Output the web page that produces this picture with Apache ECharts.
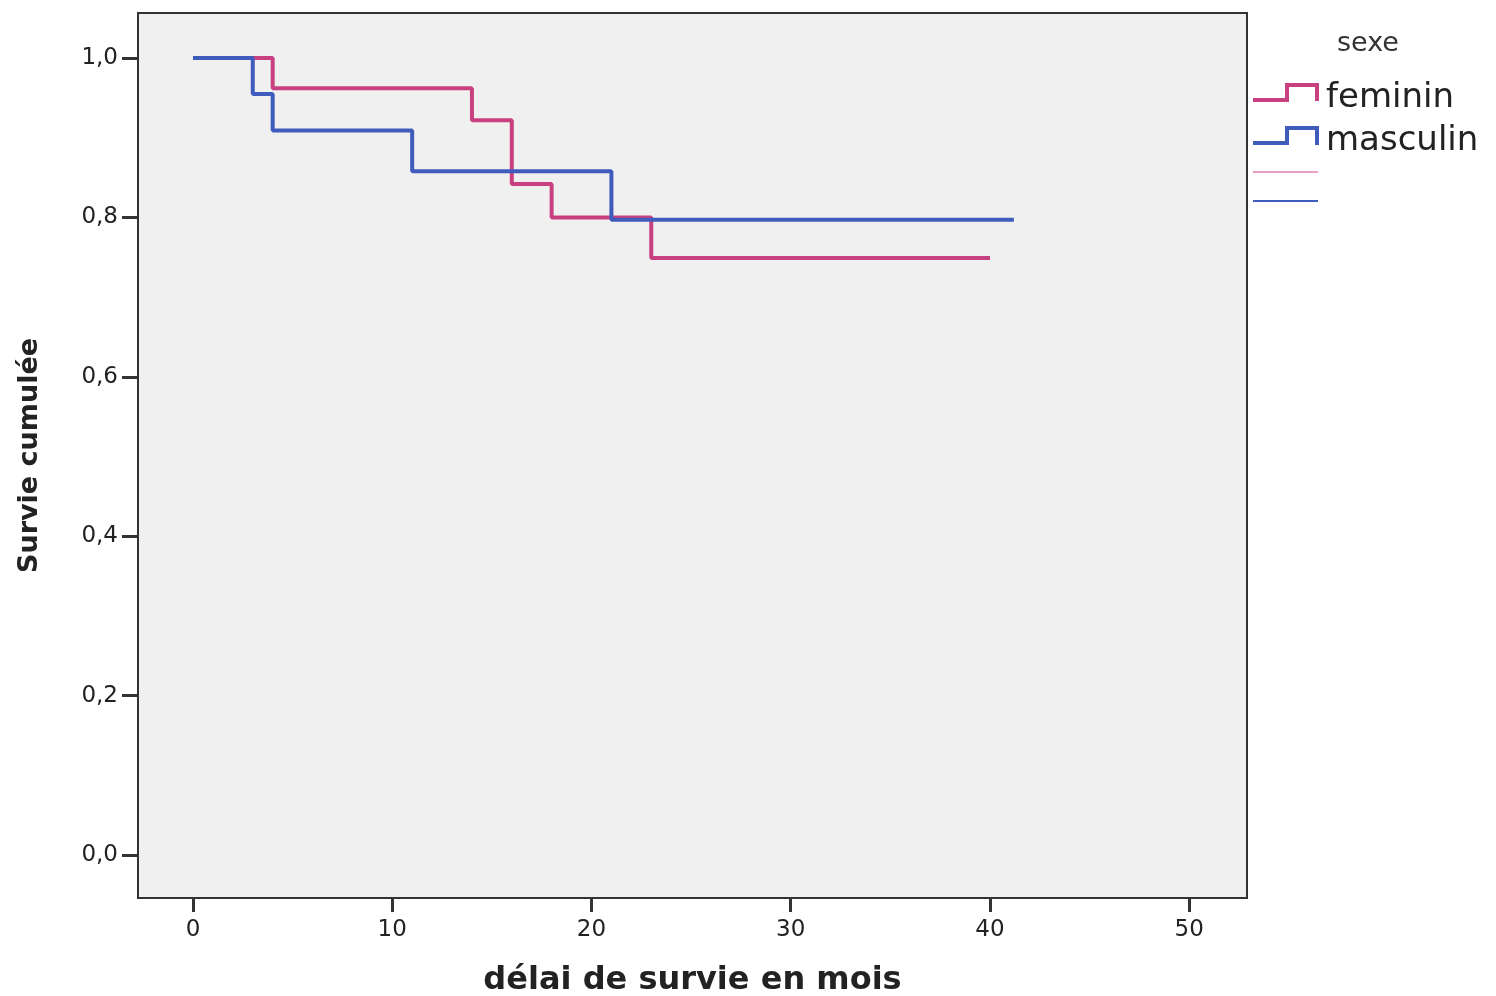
<!DOCTYPE html>
<html>
<head>
<meta charset="utf-8">
<script src="https://cdn.jsdelivr.net/npm/echarts@6/dist/echarts.min.js"></script>
<style>
html,body{margin:0;padding:0;background:#fff;}
#chart{width:1496px;height:996px;}
</style>
</head>
<body>
<div id="chart"></div>
<script>
// Kaplan-Meier step data
var femTimes = [0, 4, 14, 16, 18, 23, 40];
var femSurv  = [1.0, 0.962, 0.922, 0.842, 0.800, 0.749, 0.749];
var mascTimes = [0, 3, 4, 11, 21, 41.2];
var mascSurv  = [1.0, 0.955, 0.909, 0.858, 0.797, 0.797];
var xTicks = [0, 10, 20, 30, 40, 50];
var yTicks = [0, 0.2, 0.4, 0.6, 0.8, 1.0];
var seriesNames = ['feminin', 'masculin'];
var legendTitle = 'sexe';

var PINK = '#c8407f';
var BLUE = '#3f5cbd';

function pairs(t, s) { return t.map(function (v, i) { return [v, s[i]]; }); }

var chart = echarts.init(document.getElementById('chart'));
chart.setOption({
  animation: false,
  backgroundColor: '#ffffff',
  grid: { left: 138, right: 249, top: 13, bottom: 98, outerBoundsMode: 'none', containLabel: false,
    show: true, backgroundColor: '#f0f0f0', borderColor: '#333', borderWidth: 2 },
  xAxis: {
    type: 'value', min: -2.76, max: 52.9,
    name: 'délai de survie en mois', nameLocation: 'middle', nameGap: 67,
    nameTextStyle: { fontFamily: 'DejaVu Sans', fontWeight: 'bold', fontSize: 32, color: '#222' },
    axisLine: { show: true, onZero: false, lineStyle: { color: '#333', width: 2 } },
    splitLine: { show: false },
    axisTick: { show: true, length: 14, lineStyle: { color: '#333', width: 3 }, customValues: xTicks },
    axisLabel: { customValues: xTicks, margin: 21, fontFamily: 'DejaVu Sans', fontSize: 23, color: '#222' }
  },
  yAxis: {
    type: 'value', min: -0.054, max: 1.0565,
    name: 'Survie cumulée', nameLocation: 'middle', nameGap: 95, nameRotate: 90,
    nameTextStyle: { fontFamily: 'DejaVu Sans', fontWeight: 'bold', fontSize: 27, color: '#222' },
    axisLine: { show: true, onZero: false, lineStyle: { color: '#333', width: 2 } },
    splitLine: { show: false },
    axisTick: { show: true, length: 16, lineStyle: { color: '#333', width: 3 }, customValues: yTicks },
    axisLabel: { customValues: yTicks, margin: 20, fontFamily: 'DejaVu Sans', fontSize: 23, color: '#222',
      formatter: function (v) { return v.toFixed(1).replace('.', ','); } }
  },
  series: [
    { name: seriesNames[0], type: 'line', step: 'end', data: pairs(femTimes, femSurv), showSymbol: false,
      lineStyle: { color: PINK, width: 4 }, itemStyle: { color: PINK } },
    { name: seriesNames[1], type: 'line', step: 'end', data: pairs(mascTimes, mascSurv), showSymbol: false,
      lineStyle: { color: BLUE, width: 4 }, itemStyle: { color: BLUE } }
  ],
  graphic: [
    { type: 'text', left: 1337, top: 30, style: { text: legendTitle, font: '27px "DejaVu Sans"', fill: '#333' } },
    { type: 'polyline', shape: { points: [[1253, 100], [1287, 100], [1287, 85], [1317, 85], [1317, 101]] }, style: { stroke: PINK, lineWidth: 4, fill: null } },
    { type: 'text', left: 1326, top: 81, style: { text: seriesNames[0], font: '34px "DejaVu Sans"', fill: '#222' } },
    { type: 'polyline', shape: { points: [[1253, 143], [1287, 143], [1287, 128], [1317, 128], [1317, 145]] }, style: { stroke: BLUE, lineWidth: 4, fill: null } },
    { type: 'text', left: 1326, top: 124, style: { text: seriesNames[1], font: '34px "DejaVu Sans"', fill: '#222' } },
    { type: 'line', shape: { x1: 1253, y1: 172, x2: 1318, y2: 172 }, style: { stroke: '#e27fae', lineWidth: 1.5 } },
    { type: 'line', shape: { x1: 1253, y1: 201, x2: 1318, y2: 201 }, style: { stroke: BLUE, lineWidth: 2 } }
  ]
});
</script>
</body>
</html>
